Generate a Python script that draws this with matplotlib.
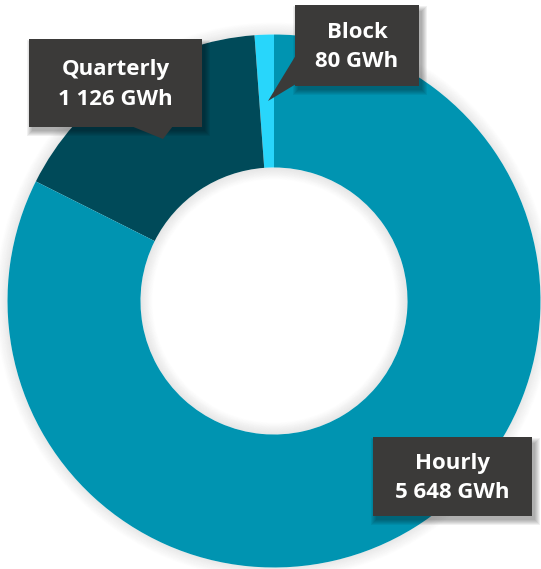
import matplotlib.pyplot as plt
from matplotlib.patches import Rectangle, Polygon, Wedge

# data
labels = ['Block', 'Quarterly', 'Hourly']
values = [80, 1126, 5648]
unit = 'GWh'
colors = ['#28d6fb', '#004a59', '#0094b1']

W, H = 541, 569
fig = plt.figure(figsize=(W / 100, H / 100), dpi=100)
ax = fig.add_axes([0, 0, 1, 1])

# donut geometry in pixel units (y measured from top)
cx, cy = 274, 301
R = 266.5
hole = 133.5


def fy(py):
    return H - py


ax.pie(values, colors=colors, startangle=90, counterclock=True, radius=R,
       center=(cx, fy(cy)), wedgeprops=dict(width=R - hole, linewidth=0))

# soft shadow around the ring and inside the hole
n = 12
for k in range(n):
    a = 0.09 * (1 - k / n)
    ax.add_patch(Wedge((cx, fy(cy)), R + k + 1, 0, 360, width=1, facecolor='black',
                       alpha=a, linewidth=0, zorder=0))
    ax.add_patch(Wedge((cx, fy(cy)), hole - k, 0, 360, width=1, facecolor='black',
                       alpha=a * 1.1, linewidth=0, zorder=0.5))

plt.rcParams['font.family'] = ['Open Sans', 'DejaVu Sans']


def callout(x0, y0, x1, y1, text, pointer=None):
    # shadow
    for k in range(6):
        ax.add_patch(Rectangle((x0 + 3 - k, fy(y1 + 4 + k)), (x1 - x0) + 2 * k, (y1 - y0) + 2 * k - 2,
                               facecolor='black', alpha=0.06, linewidth=0, zorder=3))
    ax.add_patch(Rectangle((x0, fy(y1)), x1 - x0, y1 - y0, facecolor='#3b3a39',
                           linewidth=0, zorder=4))
    if pointer is not None:
        ax.add_patch(Polygon([(px, fy(py)) for px, py in pointer], closed=True,
                             facecolor='#3b3a39', linewidth=0, zorder=4))
    ax.text((x0 + x1) / 2, fy((y0 + y1) / 2 + 1.5), text, ha='center', va='center',
            color='white', fontsize=16, fontweight='bold', linespacing=1.55, zorder=5)


def fmt(v):
    return f'{v:,}'.replace(',', ' ') + ' ' + unit


callout(29, 39, 202, 127, f'{labels[1]}\n{fmt(values[1])}',
        pointer=[(131, 126), (163, 139), (173, 126)])
callout(295, 5, 419, 86, f'{labels[0]}\n{fmt(values[0])}',
        pointer=[(296, 55), (268, 101), (296, 84)])
callout(373, 437, 532, 516, f'{labels[2]}\n{fmt(values[2])}')

ax.set_xlim(0, W)
ax.set_ylim(0, H)
ax.axis('off')
fig.savefig('out.png', dpi=100)
